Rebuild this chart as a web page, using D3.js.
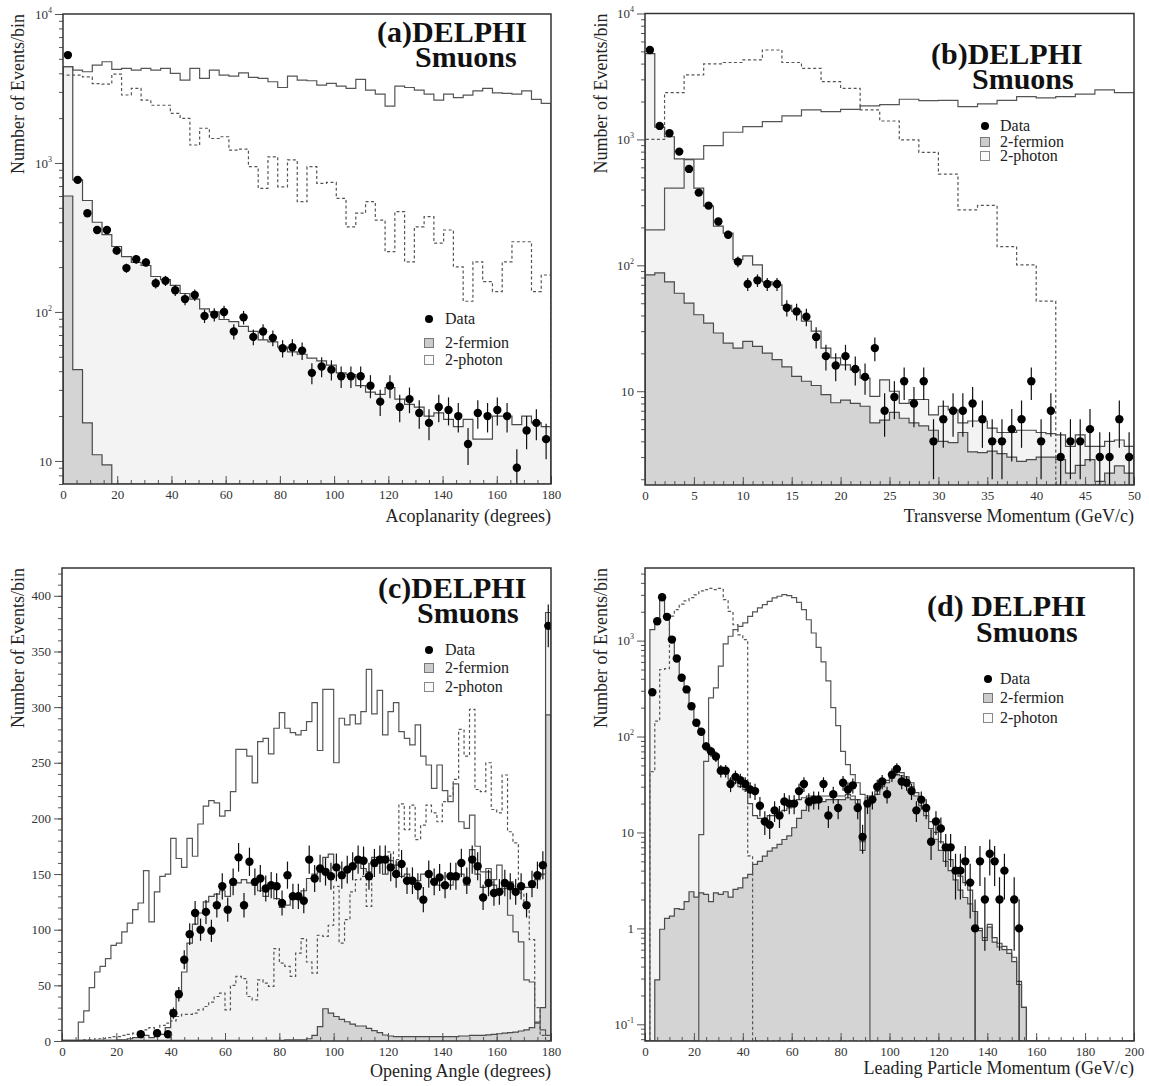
<!DOCTYPE html>
<html>
<head>
<meta charset="utf-8">
<script src="https://cdn.jsdelivr.net/npm/d3@7"></script>
<style>
body { margin: 0; background: #fff; }
</style>
</head>
<body>
<div class="container"></div>
<script>
// (a) acoplanarity, 50 bins of 3.6 degrees
var acoData = [5300, 770, 460, 355, 355, 258, 197, 226, 215, 156, 162, 140, 122, 130, 94, 96, 100, 74, 92, 68,
  74, 67, 57, 58, 55, 39, 43, 41, 37, 37, 37, 32, 25, 32, 23, 26, 21, 18, 23, 22,
  20, 13, 21, 20, 22, 20, 9, 16, 18, 14];
var acoTotal = [4430, 770, 560, 400, 330, 275, 235, 215, 205, 173, 165, 151, 133, 122, 105, 100, 89, 86, 80, 74,
  65, 63, 58, 54, 52, 49, 47, 44, 39, 38, 32, 29, 28, 31, 26, 24, 23, 20, 21, 19,
  17, 19, 14, 14, 20, 20, 17.5, 20, 18, 17];
var acoFermion = [600, 41, 18, 11, 9.4, 0, 0, 0, 0, 0, 0, 0, 0, 0, 0, 0, 0, 0, 0, 0,
  0, 0, 0, 0, 0, 0, 0, 0, 0, 0, 0, 0, 0, 0, 0, 0, 0, 0, 0, 0, 0, 0, 0, 0, 0, 0, 0, 0, 0, 0];
var acoSignalSolid = [4430, 4205, 4095, 4540, 4780, 4250, 4315, 4205, 4315, 4205, 4315, 3990, 3600, 4315, 3695, 4205, 3890, 3830, 4030, 3750,
  3695, 3510, 3210, 3830, 3600, 3565, 3330, 3420, 3280, 3165, 3640, 3080, 2900, 2410, 3280, 3210, 3080, 2900, 2640, 2900,
  2750, 2855, 3050, 3165, 2955, 2930, 2900, 3050, 2670, 2510];
var acoSignalDashed = [3890, 3890, 3780, 3410, 3380, 3950, 2860, 3170, 2640, 2440, 2440, 2150, 1990, 1320, 1710, 1460, 1500, 1220, 1240, 944,
  676, 1100, 692, 1050, 550, 944, 730, 740, 578, 373, 460, 550, 414, 254, 472, 217, 373, 436, 290, 355,
  201, 118, 217, 160, 137, 217, 296, 296, 137, 177];

// (b) transverse momentum, 50 bins of 1 GeV/c (signals in 2 GeV/c bins)
var ptData = [5130, 1280, 1120, 800, 583, 378, 298, 223, 175, 107, 71, 76, 71, 71, 46, 43, 39, 27, 19, 16,
  19, 15, 13, 22, 7, 9, 12, 8, 12, 4, 6, 7, 7, 8, 6, 4, 4, 5, 6, 12, 4, 7, 3, 4, 4, 5, 3, 3, 6, 3];
var ptTotal = [4800, 1250, 1050, 700, 690, 410, 295, 205, 180, 111, 119, 101, 74, 70, 48, 43, 36, 30, 22, 18.4,
  16.2, 14.8, 12.7, 9.1, 12.3, 10, 8, 8.6, 8.6, 6.5, 7.6, 7.1, 5.6, 5.8, 5.8, 5.1, 4.7, 4.7, 4.9, 4.9,
  4.7, 4.6, 4.5, 3.65, 4.5, 3.65, 3.65, 4.0, 4.1, 3.65];
var ptFermion = [84, 87, 74, 60, 50, 40.5, 34.8, 29, 24.1, 22, 24.9, 22.7, 20.1, 17.8, 15.6, 13.1, 12, 11.1, 9.4, 8.1,
  8.5, 8.0, 7.6, 5.6, 5.9, 6.8, 6.1, 5.6, 5.3, 4.9, 4.0, 3.9, 4.7, 3.3, 3.25, 3.35, 3.2, 3.0, 2.77, 2.86,
  3.0, 3.0, 2.86, 2.24, 2.58, 2.86, 1.92, 2.24, 2.55, 2.24];
var ptSignalSolid = [191, 410, 697, 893, 1140, 1265, 1385, 1540, 1715, 1665, 1730, 1845, 1890, 2085, 2030, 2040, 1820, 1915, 2040, 2190,
  2140, 2190, 2290, 2470, 2350];
var ptSignalDashed = [1000, 2350, 3250, 3975, 4080, 4280, 5130, 4080, 3670, 2875, 2545, 1715, 1400, 990, 790, 530, 276, 299, 141, 101,
  52, 0, 0, 0, 0];

// (c) opening angle, 90 bins of 2 degrees
var oaData = [0, 0, 0, 0, 0, 0, 0, 0, 0, 0, 0, 0, 0, 0, 6, 0, 0, 7, 0, 6,
  25, 42, 73, 96, 115, 100, 116, 99, 122, 139, 118, 143, 165, 122, 161, 143, 146, 137, 140, 139,
  124, 149, 130, 130, 126, 163, 146, 155, 152, 148, 156, 149, 154, 157, 163, 162, 148, 160, 163, 163,
  156, 150, 159, 144, 144, 139, 127, 150, 143, 147, 140, 148, 148, 160, 144, 163, 157, 129, 142, 133,
  134, 142, 139, 134, 139, 122, 141, 149, 158, 373];
var oaTotal = [0.5, 0.5, 0.5, 0.5, 0.5, 0.5, 0.5, 0.5, 0.5, 0.5, 1, 1, 2, 3, 4, 5, 3, 5, 6, 12,
  28, 45, 62, 88, 105, 115, 125, 130, 132, 135, 130, 140, 142, 145, 142, 140, 135, 130, 140, 128,
  120, 122, 128, 130, 135, 146, 150, 152, 165, 168, 155, 150, 152, 158, 160, 155, 152, 165, 160, 150,
  162, 158, 148, 150, 145, 144, 150, 152, 145, 140, 138, 140, 145, 150, 140, 172, 150, 138, 152, 140,
  135, 140, 143, 135, 140, 138, 138, 145, 150, 385];
var oaFermion = [0.5, 0.5, 0.5, 0.5, 0.5, 0.5, 0.5, 0.5, 0.5, 0.5, 0.5, 0.5, 0.5, 0.5, 0.5, 0.5, 0.5, 0.5, 0.5, 0.5,
  0.5, 0.5, 0.5, 0.5, 0.5, 0.5, 0.5, 0.5, 0.5, 0.5, 0.5, 0.5, 0.5, 0.5, 0.5, 0.5, 0.5, 0.5, 0.5, 0.5,
  0.5, 1, 1, 1, 1, 2, 5, 13, 29, 25, 22, 19.5, 17.3, 15.2, 13.5, 13.5, 11.4, 9.3, 7.5, 5.4,
  4.5, 4, 4, 4, 4, 4, 4, 4, 4, 4, 4, 4, 4, 4.5, 4.5, 5, 5, 5, 5.5, 6,
  6.5, 7, 7.5, 8, 9, 10, 12, 17, 30, 293];
var oaSignalSolid = [0, 0, 0, 17, 27, 48, 62, 67, 74, 86, 88, 98, 106, 118, 124, 153, 107, 134, 148, 150,
  182, 164, 156, 182, 166, 195, 211, 216, 214, 202, 207, 224, 262, 262, 256, 232, 269, 272, 258, 281,
  295, 281, 277, 275, 279, 287, 304, 261, 316, 316, 250, 290, 284, 293, 285, 296, 334, 294, 315, 275,
  296, 304, 278, 272, 266, 284, 256, 248, 227, 248, 225, 215, 231, 197, 191, 203, 175, 152, 155, 145,
  158, 137, 113, 98, 89, 55, 53, 16, 10, 5];
var oaSignalDashed = [0, 0, 0, 0, 1, 1, 2, 2, 3, 4, 4, 5, 6, 7, 8, 10, 12, 10, 14, 16,
  18, 22, 24, 24, 25, 28, 31, 35, 40, 43, 28, 50, 58, 56, 40, 37, 55, 52, 49, 83,
  70, 67, 58, 79, 92, 71, 61, 95, 94, 104, 139, 88, 109, 134, 145, 148, 121, 157, 162, 163,
  170, 163, 213, 190, 212, 181, 194, 212, 205, 197, 215, 220, 235, 280, 256, 298, 226, 224, 250, 208,
  205, 239, 188, 178, 133, 120, 91, 30, 5, 0];

// (d) leading particle momentum, 100 bins of 2 GeV/c
var lpData = [0, 290, 1590, 2830, 1770, 1025, 650, 410, 310, 207, 139, 112, 79, 70, 62, 44, 44, 32, 38, 35,
  32, 28, 27, 19, 13, 12, 17, 15, 21, 20, 20, 27, 32, 21, 22, 22, 32, 15, 25, 18,
  33, 28, 31, 18, 9, 20, 22, 30, 34, 25, 40, 46, 34, 33, 27, 17, 22, 18, 8, 13,
  11, 7, 7, 4, 4, 5, 3, 1, 5, 2, 6, 5, 2, 4, 0, 2, 1, 0, 0, 0,
  0, 0, 0, 0, 0, 0, 0, 0, 0, 0, 0, 0, 0, 0, 0, 0, 0, 0, 0, 0];
var lpTotal = [0, 1300, 1600, 2900, 1700, 1000, 640, 400, 300, 200, 140, 105, 78, 66, 58, 48, 42, 36, 33, 30,
  28, 20, 15, 14, 14, 15, 15, 16, 17, 18, 20, 22, 23, 24, 24, 24, 24, 24, 24, 24,
  24, 25, 24, 22, 8, 23, 24, 27, 32, 35, 40, 43, 42, 38, 33, 26, 21, 17, 13, 10,
  8, 6.5, 5.2, 4.3, 3.5, 3.0, 2.5, 1.5, 1.0, 0.8, 1.1, 0.8, 0.7, 0.65, 0.6, 0.5, 0.28, 0.15, 0, 0,
  0, 0, 0, 0, 0, 0, 0, 0, 0, 0, 0, 0, 0, 0, 0, 0, 0, 0, 0, 0];
var lpFermion = [0, 0, 0.29, 0.98, 1.27, 1.34, 1.61, 1.58, 1.9, 2.41, 2.12, 2.35, 2.26, 1.9, 2.35, 2.26, 2.41, 2.12, 2.55, 2.65,
  3.37, 3.65, 4.64, 5.0, 5.66, 6.4, 6.9, 7.5, 8.45, 9.2, 11.2, 14, 17, 19, 20, 21, 21, 22, 22, 22,
  22, 23, 22, 20, 6.5, 21, 22, 25, 30, 33, 37, 40, 39, 35, 30, 24, 19, 15, 11, 8.5,
  6.5, 5, 4, 3.2, 2.5, 2.1, 1.8, 1.5, 0.95, 0.75, 1.03, 0.72, 0.64, 0.6, 0.55, 0.45, 0.26, 0.15, 0, 0,
  0, 0, 0, 0, 0, 0, 0, 0, 0, 0, 0, 0, 0, 0, 0, 0, 0, 0, 0, 0];
var lpSignalSolid = [0, 0, 0, 0, 0, 0, 0, 0, 0, 0, 0, 9.5, 55, 253, 321, 541, 923, 1110, 1300, 1410,
  1530, 1790, 1990, 2190, 2370, 2570, 2790, 2900, 3015, 2950, 2800, 2500, 2100, 1650, 1200, 850, 600, 380, 200, 130,
  70, 51, 40, 33, 25, 24, 0, 0, 0, 0, 0, 0, 0, 0, 0, 0, 0, 0, 0, 0,
  0, 0, 0, 0, 0, 0, 0, 0, 0, 0, 0, 0, 0, 0, 0, 0, 0, 0, 0, 0,
  0, 0, 0, 0, 0, 0, 0, 0, 0, 0, 0, 0, 0, 0, 0, 0, 0, 0, 0, 0];
var lpSignalDashed = [0, 43, 145, 500, 510, 1800, 2100, 2400, 2600, 2800, 3000, 3300, 3400, 3500, 3400, 3500, 2670, 2020, 1470, 1150,
  1025, 5.7, 0, 0, 0, 0, 0, 0, 0, 0, 0, 0, 0, 0, 0, 0, 0, 0, 0, 0,
  0, 0, 0, 0, 0, 0, 0, 0, 0, 0, 0, 0, 0, 0, 0, 0, 0, 0, 0, 0,
  0, 0, 0, 0, 0, 0, 0, 0, 0, 0, 0, 0, 0, 0, 0, 0, 0, 0, 0, 0,
  0, 0, 0, 0, 0, 0, 0, 0, 0, 0, 0, 0, 0, 0, 0, 0, 0, 0, 0, 0];

// tick labels
var angleTicks = [0, 20, 40, 60, 80, 100, 120, 140, 160, 180];
var ptTicks = [0, 5, 10, 15, 20, 25, 30, 35, 40, 45, 50];
var lpTicks = [0, 20, 40, 60, 80, 100, 120, 140, 160, 180, 200];
var countTicks = [0, 50, 100, 150, 200, 250, 300, 350, 400];
var legendLabels = ['Data', '2-fermion', '2-photon'];

const WIDTH = 1149;
const HEIGHT = 1086;
const SERIF = "'Liberation Serif', 'DejaVu Serif', 'Times New Roman', serif";
const LINE = '#4a4a4a';
const LIGHT = '#f3f3f3';
const MID = '#d4d4d4';

var translate = function(x, y){
	return "translate(" + x + "," + y + ")";
};

var svg = d3.select('.container').append('svg')
	.attr('width', WIDTH)
	.attr('height', HEIGHT)
	.style('font-family', SERIF);

var logMinor = function(domain){
	var out = [];
	for (var e = -2; e <= 4; e++) {
		for (var k = 2; k <= 9; k++) {
			var v = k * Math.pow(10, e);
			if (v >= domain[0] && v <= domain[1]) out.push(v);
		}
	}
	return out;
};

var drawPanel = function(p){
	var x = d3.scaleLinear().domain(p.xDomain).range([p.left, p.right]);
	var y = (p.log ? d3.scaleLog() : d3.scaleLinear())
		.domain(p.yDomain).range([p.bottom, p.top]).clamp(true);
	var lo = p.yDomain[0];
	var g = svg.append('g');

	svg.append('clipPath').attr('id', 'clip-' + p.id)
		.append('rect')
		.attr('x', p.left).attr('y', p.top)
		.attr('width', p.right - p.left).attr('height', p.bottom - p.top);
	var plot = g.append('g').attr('clip-path', 'url(#clip-' + p.id + ')');

	var stepPts = function(vals, w){
		var pts = [[0, lo]];
		vals.forEach(function(v, i){ pts.push([i * w, v], [(i + 1) * w, v]); });
		pts.push([vals.length * w, lo]);
		return pts;
	};
	var line = d3.line()
		.x(function(d){ return x(d[0]); })
		.y(function(d){ return y(Math.max(d[1], lo)); });
	var area = d3.area()
		.x(function(d){ return x(d[0]); })
		.y0(p.bottom)
		.y1(function(d){ return y(Math.max(d[1], lo)); });

	// stacked background: 2-photon (light) on top of 2-fermion (grey)
	plot.append('path').attr('d', area(stepPts(p.total, p.bin))).attr('fill', LIGHT);
	plot.append('path').attr('d', area(stepPts(p.fermion, p.bin))).attr('fill', MID);
	plot.append('path').attr('d', line(stepPts(p.total, p.bin)))
		.attr('fill', 'none').attr('stroke', LINE).attr('stroke-width', 1.2);
	plot.append('path').attr('d', line(stepPts(p.fermion, p.bin)))
		.attr('fill', 'none').attr('stroke', LINE).attr('stroke-width', 1.2);

	// signal histograms
	p.signals.forEach(function(s){
		plot.append('path').attr('d', line(stepPts(s.vals, s.bin)))
			.attr('fill', 'none').attr('stroke', '#555').attr('stroke-width', 1.2)
			.attr('stroke-dasharray', s.dash ? '3,2.5' : null);
	});

	// data with sqrt(N) errors
	var pts = p.data.map(function(v, i){ return {x: (i + 0.5) * p.bin, v: v}; })
		.filter(function(d){ return d.v > 0; });
	plot.selectAll('line.err').data(pts).enter().append('line')
		.attr('x1', function(d){ return x(d.x); })
		.attr('x2', function(d){ return x(d.x); })
		.attr('y1', function(d){ return y(Math.max(d.v - Math.sqrt(d.v), lo)); })
		.attr('y2', function(d){ return y(d.v + Math.sqrt(d.v)); })
		.attr('stroke', '#111').attr('stroke-width', 1.2);
	plot.selectAll('circle').data(pts).enter().append('circle')
		.attr('cx', function(d){ return x(d.x); })
		.attr('cy', function(d){ return y(d.v); })
		.attr('r', 4.2)
		.attr('fill', '#000');

	// axes
	var xMinorAxis = d3.axisBottom(x).tickValues(p.xMinor).tickSize(-4).tickFormat('');
	var xAxis = d3.axisBottom(x).tickValues(p.xTicks).tickSize(-8).tickPadding(6);
	g.append('g').attr('transform', translate(0, p.bottom)).call(xMinorAxis);
	var xa = g.append('g').attr('transform', translate(0, p.bottom)).call(xAxis);

	var yMinorAxis = d3.axisLeft(y).tickValues(p.yMinor).tickSize(4).tickFormat('');
	var yAxis = d3.axisLeft(y).tickValues(p.yTicks).tickSize(8).tickPadding(3);
	g.append('g').attr('transform', translate(p.left, 0)).call(yMinorAxis);
	var ya = g.append('g').attr('transform', translate(p.left, 0)).call(yAxis);

	g.selectAll('.domain').remove();
	g.selectAll('.tick line').attr('stroke', '#555');
	[xa, ya].forEach(function(a){
		a.selectAll('text').attr('font-family', SERIF).attr('font-size', 13).attr('fill', '#333');
	});
	if (p.log) {
		ya.selectAll('.tick text').each(function(d){
			var e = Math.round(Math.log10(d));
			var t = d3.select(this).text(null);
			if (e === 0) { t.text('1'); return; }
			t.append('tspan').text('10');
			if (e !== 1) {
				t.append('tspan').attr('font-size', 8).attr('dy', -6).text(e);
			}
		});
	}

	// frame
	g.append('rect')
		.attr('x', p.left).attr('y', p.top)
		.attr('width', p.right - p.left).attr('height', p.bottom - p.top)
		.attr('fill', 'none').attr('stroke', '#333').attr('stroke-width', 1.5);

	// titles
	g.append('text')
		.attr('transform', translate(p.yTitleX, p.top) + ' rotate(-90)')
		.attr('text-anchor', 'end').attr('font-size', 18).attr('fill', '#222')
		.text('Number of Events/bin');
	g.append('text')
		.attr('x', p.right).attr('y', p.xTitleY)
		.attr('text-anchor', 'end').attr('font-size', 18).attr('fill', '#222')
		.text(p.xTitle);

	g.append('text').attr('x', p.tag[0]).attr('y', p.tag[1])
		.attr('font-size', 30).attr('font-weight', 'bold').attr('fill', '#111')
		.text(p.tagText);
	g.append('text').attr('x', p.tag[2]).attr('y', p.tag[3])
		.attr('font-size', 30).attr('font-weight', 'bold').attr('fill', '#111')
		.text('Smuons');

	// legend
	var lg = g.append('g');
	lg.append('circle').attr('cx', p.legend[0]).attr('cy', p.legend[2]).attr('r', 4).attr('fill', '#000');
	lg.append('rect').attr('x', p.legend[0] - 4.5).attr('y', p.legend[3] - 4.5)
		.attr('width', 9).attr('height', 9).attr('fill', '#ccc').attr('stroke', '#777');
	lg.append('rect').attr('x', p.legend[0] - 4.5).attr('y', p.legend[4] - 4.5)
		.attr('width', 9).attr('height', 9).attr('fill', '#fafafa').attr('stroke', '#888');
	legendLabels.forEach(function(t, i){
		lg.append('text').attr('x', p.legend[1]).attr('y', p.legend[2 + i] + 5)
			.attr('font-size', 16).attr('fill', '#222').text(t);
	});
};

var loadChart = function(){
	drawPanel({
		id: 'a', left: 63, right: 551, top: 14, bottom: 484,
		xDomain: [0, 180], xTicks: angleTicks, xMinor: d3.range(0, 181, 5),
		log: true, yDomain: [7, 10000], yTicks: [10, 100, 1000, 10000], yMinor: logMinor([7, 10000]),
		bin: 3.6, data: acoData, total: acoTotal, fermion: acoFermion,
		signals: [{vals: acoSignalSolid, bin: 3.6}, {vals: acoSignalDashed, bin: 3.6, dash: true}],
		yTitleX: 24, xTitleY: 522, xTitle: 'Acoplanarity (degrees)',
		tag: [377, 42, 415, 67], tagText: '(a)DELPHI',
		legend: [429, 445, 319, 343, 360]
	});
	drawPanel({
		id: 'b', left: 645, right: 1134, top: 13.5, bottom: 485,
		xDomain: [0, 50], xTicks: ptTicks, xMinor: d3.range(0, 51, 1),
		log: true, yDomain: [1.8, 10000], yTicks: [10, 100, 1000, 10000], yMinor: logMinor([1.8, 10000]),
		bin: 1, data: ptData, total: ptTotal, fermion: ptFermion,
		signals: [{vals: ptSignalSolid, bin: 2}, {vals: ptSignalDashed, bin: 2, dash: true}],
		yTitleX: 607, xTitleY: 522, xTitle: 'Transverse Momentum (GeV/c)',
		tag: [931, 64, 972, 89], tagText: '(b)DELPHI',
		legend: [985, 1000, 126, 142, 156]
	});
	drawPanel({
		id: 'c', left: 62, right: 551, top: 568, bottom: 1041,
		xDomain: [0, 180], xTicks: angleTicks, xMinor: d3.range(0, 181, 5),
		log: false, yDomain: [0, 425], yTicks: countTicks, yMinor: d3.range(0, 421, 10),
		bin: 2, data: oaData, total: oaTotal, fermion: oaFermion,
		signals: [{vals: oaSignalSolid, bin: 2}, {vals: oaSignalDashed, bin: 2, dash: true}],
		yTitleX: 24, xTitleY: 1077, xTitle: 'Opening Angle (degrees)',
		tag: [378, 598, 417, 623], tagText: '(c)DELPHI',
		legend: [429, 445, 650, 668, 687]
	});
	drawPanel({
		id: 'd', left: 645, right: 1134, top: 568, bottom: 1041,
		xDomain: [0, 200], xTicks: lpTicks, xMinor: d3.range(0, 201, 5),
		log: true, yDomain: [0.067, 5715], yTicks: [0.1, 1, 10, 100, 1000], yMinor: logMinor([0.067, 5715]),
		bin: 2, data: lpData, total: lpTotal, fermion: lpFermion,
		signals: [{vals: lpSignalSolid, bin: 2}, {vals: lpSignalDashed, bin: 2, dash: true}],
		yTitleX: 607, xTitleY: 1074, xTitle: 'Leading Particle Momentum (GeV/c)',
		tag: [927, 616, 976, 642], tagText: '(d) DELPHI',
		legend: [988, 1000, 679, 698, 718]
	});
};

loadChart();
</script>
</body>
</html>
